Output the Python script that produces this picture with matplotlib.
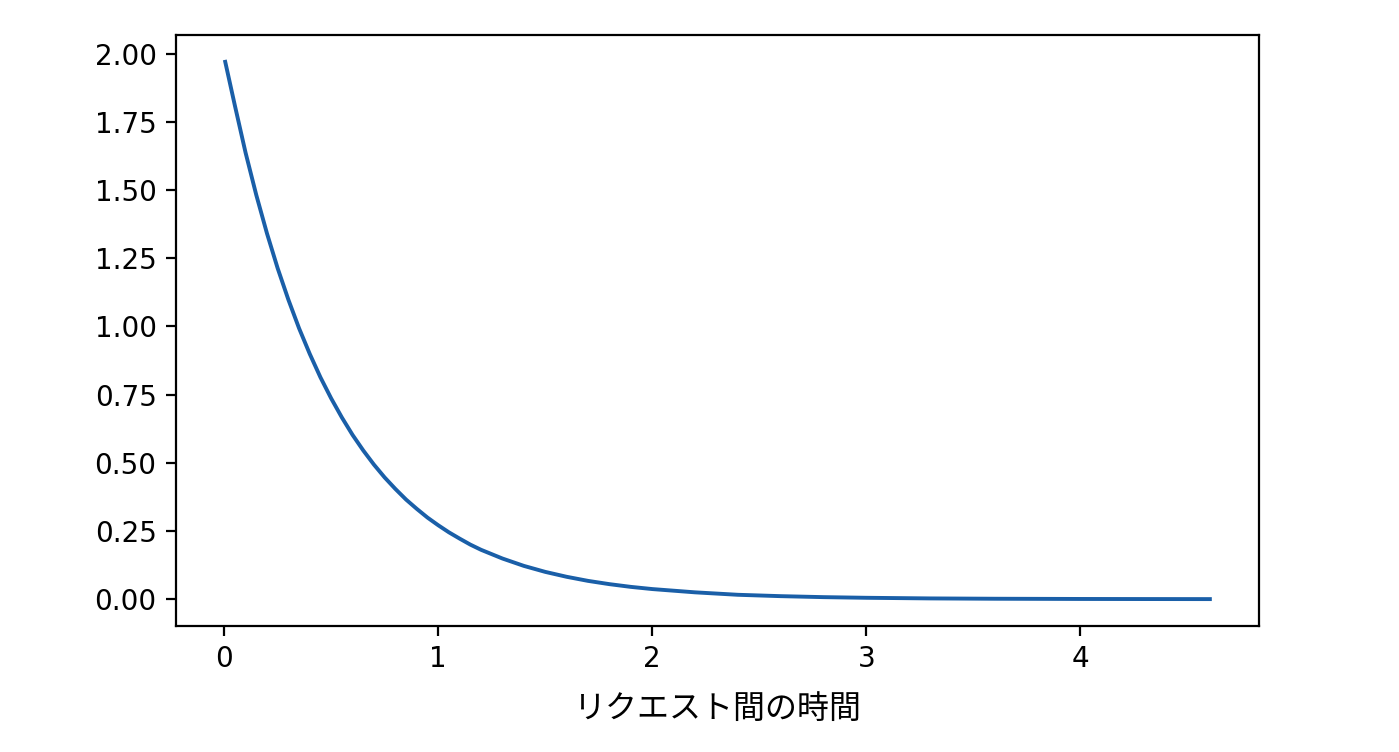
import matplotlib
matplotlib.use("Agg")
import matplotlib.pyplot as plt

plt.rcParams['font.family'] = ['DejaVu Sans', 'Noto Sans CJK JP']

# リクエスト間の時間 (x) と確率密度 (y)
wait_time = [0.005, 0.05, 0.10, 0.15, 0.20, 0.25, 0.30, 0.35, 0.40, 0.45,
             0.50, 0.55, 0.60, 0.65, 0.70, 0.75, 0.80, 0.85, 0.90, 0.95,
             1.00, 1.05, 1.10, 1.15, 1.20, 1.30, 1.40, 1.50, 1.60, 1.70,
             1.80, 1.90, 2.00, 2.20, 2.40, 2.60, 2.80, 3.00, 3.30, 3.60,
             4.00, 4.30, 4.605]
density = [1.970, 1.810, 1.637, 1.482, 1.341, 1.213, 1.098, 0.993, 0.899, 0.813,
           0.736, 0.666, 0.602, 0.545, 0.493, 0.446, 0.404, 0.365, 0.331, 0.299,
           0.271, 0.245, 0.222, 0.200, 0.181, 0.149, 0.122, 0.100, 0.082, 0.067,
           0.055, 0.045, 0.037, 0.025, 0.016, 0.011, 0.0074, 0.0050, 0.0027, 0.0015,
           0.0007, 0.0004, 0.0002]
x_label = 'リクエスト間の時間'

fig = plt.figure(figsize=(13.99 / 2, 7.52 / 2), dpi=200)
ax = fig.add_axes([0.1258, 0.1676, 0.9 - 0.1258, 0.9535 - 0.1676])
ax.plot(wait_time, density, color='#1a5fa8', lw=1.4)
ax.set_xlabel(x_label, fontsize=11.5, family=['Noto Sans CJK JP'], labelpad=7)

fig.savefig('out.png', dpi=200)
